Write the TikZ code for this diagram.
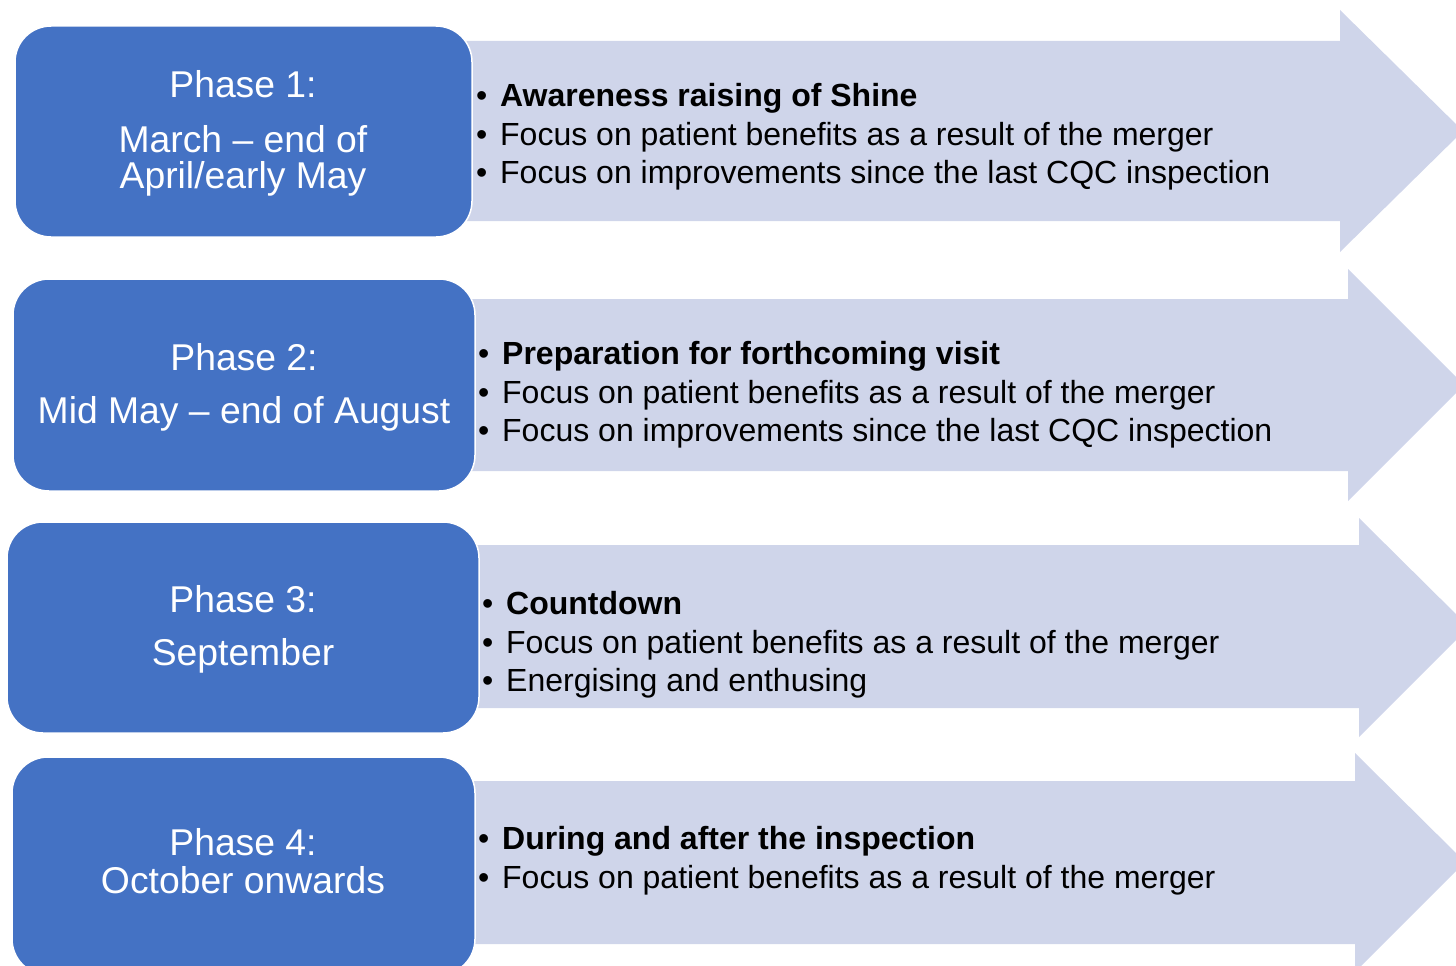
\documentclass[tikz,border=0pt]{standalone}
\usepackage{fontspec}
\setmainfont{Liberation Sans}
\definecolor{boxblue}{HTML}{4472C4}
\definecolor{arrowfill}{HTML}{CFD5EA}
\newcommand\bul{\llap{•\hspace{13pt}}}
\begin{document}
\begin{tikzpicture}[x=1pt,y=-1pt,
  arrowshape/.style={fill=arrowfill},
  phasebox/.style={fill=boxblue, draw=white, line width=1.5pt, rounded corners=36pt},
  boxtext/.style={anchor=base, text=white, font=\fontsize{37.3}{42}\selectfont, inner sep=0pt},
  itemtext/.style={anchor=base west, font=\fontsize{32}{36}\selectfont, inner sep=0pt}]
\useasboundingbox (0,0) rectangle (1456,966);
% arrows
\fill[arrowshape] (400,41) -- (1340,41) -- (1340,10) -- (1463,131) -- (1340,252) -- (1340,221) -- (400,221) -- cycle;
\fill[arrowshape] (400,299) -- (1348,299) -- (1348,269) -- (1464,385) -- (1348,501) -- (1348,471) -- (400,471) -- cycle;
\fill[arrowshape] (400,545) -- (1359,545) -- (1359,518) -- (1469,627) -- (1359,737) -- (1359,708) -- (400,708) -- cycle;
\fill[arrowshape] (400,781) -- (1355,781) -- (1355,753) -- (1465,862) -- (1355,972) -- (1355,944) -- (400,944) -- cycle;
% boxes
\draw[phasebox] (15,26) rectangle (472,237);
\draw[phasebox] (13,279) rectangle (475,491);
\draw[phasebox] (7,522) rectangle (479,733);
\draw[phasebox] (12,757) rectangle (475,975);
% box texts
\node[boxtext] (p1a) at (243,97) {Phase 1:};
\node[boxtext] (p1b) at (243,152) {March – end of};
\node[boxtext] (p1c) at (243,188) {April/early May};
\node[boxtext] (p2a) at (244,370) {Phase 2:};
\node[boxtext] (p2b) at (244,423) {Mid May – end of August};
\node[boxtext] (p3a) at (243,612) {Phase 3:};
\node[boxtext] (p3b) at (243,665) {September};
\node[boxtext] (p4a) at (243,855) {Phase 4:};
\node[boxtext] (p4b) at (243,893) {October onwards};
% bullet texts
\node[itemtext] (a1) at (500,106) {\bul\textbf{Awareness raising of Shine}};
\node[itemtext] (a2) at (500,145) {\bul Focus on patient benefits as a result of the merger};
\node[itemtext] (a3) at (500,183) {\bul Focus on improvements since the last CQC inspection};
\node[itemtext] (b1) at (502,364) {\bul\textbf{Preparation for forthcoming visit}};
\node[itemtext] (b2) at (502,403) {\bul Focus on patient benefits as a result of the merger};
\node[itemtext] (b3) at (502,441) {\bul Focus on improvements since the last CQC inspection};
\node[itemtext] (c1) at (506,614) {\bul\textbf{Countdown}};
\node[itemtext] (c2) at (506,653) {\bul Focus on patient benefits as a result of the merger};
\node[itemtext] (c3) at (506,691) {\bul Energising and enthusing};
\node[itemtext] (d1) at (502,849) {\bul\textbf{During and after the inspection}};
\node[itemtext] (d2) at (502,888) {\bul Focus on patient benefits as a result of the merger};
\end{tikzpicture}
\end{document}
